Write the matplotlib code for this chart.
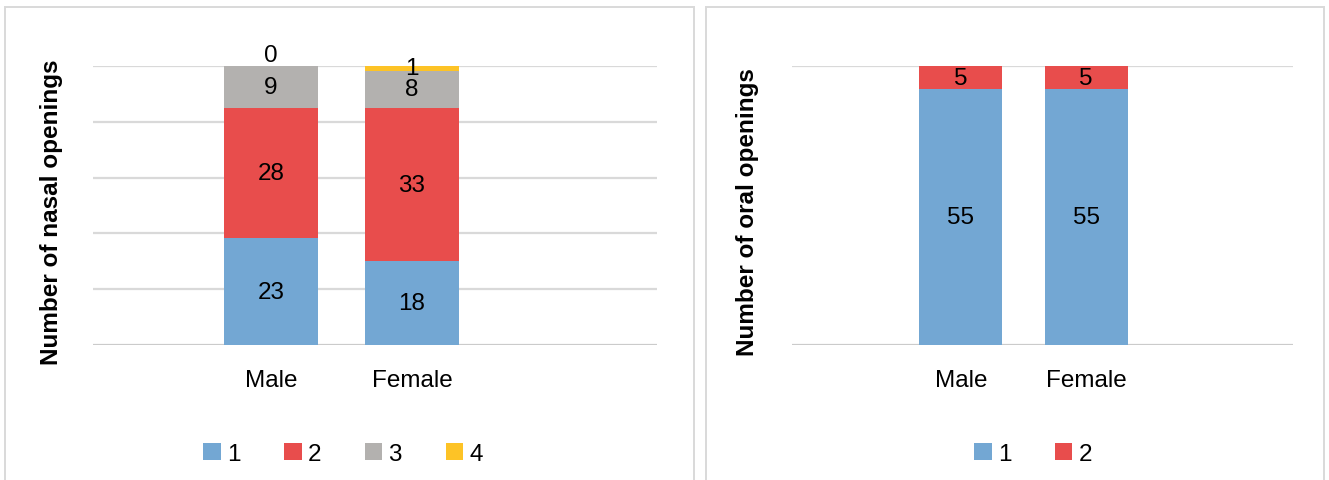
import numpy as np
import matplotlib.pyplot as plt
from matplotlib.patches import Rectangle

plt.rcParams["font.family"] = ["Liberation Sans", "DejaVu Sans"]

# ── data ────────────────────────────────────────────────────────────────────
sexes = ["Male", "Female"]

nasal_levels = ["1", "2", "3", "4"]
nasal_counts = {
    "1": [23, 18],
    "2": [28, 33],
    "3": [9, 8],
    "4": [0, 1],
}

oral_levels = ["1", "2"]
oral_counts = {
    "1": [55, 55],
    "2": [5, 5],
}

nasal_ticks = [0, 12, 24, 36, 48, 60]
oral_ticks = [0, 60]

colors = {"1": "#73a7d3", "2": "#e84d4c", "3": "#b3b1af", "4": "#fdc326"}

FS = 17.5
W, H = 1329, 481

fig = plt.figure(figsize=(W / 100, H / 100), dpi=100)


def px(x0, y0, w, h):
    """pixel box (top-left origin) -> figure fraction rect"""
    return [x0 / W, 1 - (y0 + h) / H, w / W, h / H]


# panel frames
for x0, x1 in [(5, 694), (706, 1324)]:
    fig.patches.append(Rectangle((x0 / W, -0.05), (x1 - x0) / W, 1 - 8 / H + 0.05,
                                 transform=fig.transFigure, fill=False,
                                 edgecolor="#d9d9d9", lw=1.4))


def stacked(ax, levels, counts, ticks, xlim):
    x = np.arange(len(sexes))
    bottom = np.zeros(len(sexes))
    handles = []
    for lev in levels:
        vals = np.array(counts[lev], dtype=float)
        bars = ax.bar(x, vals, 0.664, bottom=bottom, color=colors[lev],
                      label=lev, zorder=2)
        handles.append(bars)
        for xi, v, b in zip(x, vals, bottom):
            if v > 0:
                ax.text(xi, b + v / 2, f"{int(v)}", ha="center", va="center",
                        fontsize=FS, zorder=3)
            else:
                ax.text(xi, b, f"{int(v)}", ha="center", va="bottom",
                        fontsize=FS, zorder=3)
        bottom = bottom + vals

    for t in ticks:
        ax.axhline(t, color="#cbcbcb" if t == 0 else "#d9d9d9", lw=1.6, zorder=1)

    ax.set_ylim(0, ticks[-1])
    ax.set_xlim(*xlim)
    ax.set_xticks(x)
    ax.set_xticklabels(sexes, fontsize=FS)
    ax.set_yticks([])
    ax.tick_params(axis="x", length=0, pad=17)
    for s in ax.spines.values():
        s.set_visible(False)
    return handles


ax1 = fig.add_axes(px(93, 67, 564, 279))
h1 = stacked(ax1, nasal_levels, nasal_counts, nasal_ticks, (-1.259, 2.735))

ax2 = fig.add_axes(px(792, 67, 501, 279))
h2 = stacked(ax2, oral_levels, oral_counts, oral_ticks, (-1.348, 2.652))

# axis titles
fig.text(52 / W, 1 - 212 / H, "Number of nasal openings", rotation=90,
         ha="center", va="center", fontsize=17.5, fontweight="bold")
fig.text(748 / W, 1 - 212 / H, "Number of oral openings", rotation=90,
         ha="center", va="center", fontsize=17.5, fontweight="bold")

leg_kw = dict(loc="center", frameon=False, fontsize=FS, handlelength=0.72,
              handleheight=0.72, handletextpad=0.25, columnspacing=1.8,
              borderaxespad=0)
fig.legend(h1, nasal_levels, ncol=4, bbox_to_anchor=(343 / W, 1 - 455 / H), **leg_kw)
fig.legend(h2, oral_levels, ncol=2, bbox_to_anchor=(1033 / W, 1 - 455 / H), **leg_kw)

fig.savefig("out.png", dpi=100)
